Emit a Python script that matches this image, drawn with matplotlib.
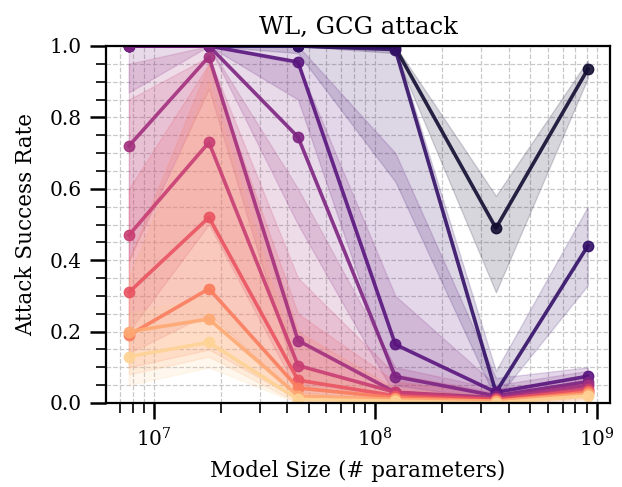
import numpy as np
import matplotlib
matplotlib.use("Agg")
import matplotlib.pyplot as plt
import seaborn as sns
from matplotlib.ticker import MultipleLocator, LogLocator

# model sizes (# parameters)
sizes = [7.7e6, 1.77e7, 4.47e7, 1.23e8, 3.5e8, 9.1e8]

# attack success rate per run, darkest -> lightest, with band limits
asr = [
    [1.0, 1.0, 1.0, 0.995, 0.49, 0.935],
    [1.0, 1.0, 1.0, 0.99, 0.03, 0.44],
    [1.0, 1.0, 0.955, 0.164, 0.03, 0.075],
    [1.0, 1.0, 0.745, 0.074, 0.02, 0.06],
    [0.72, 0.97, 0.175, 0.03, 0.015, 0.05],
    [0.47, 0.73, 0.105, 0.03, 0.01, 0.04],
    [0.31, 0.52, 0.064, 0.02, 0.01, 0.035],
    [0.19, 0.32, 0.042, 0.015, 0.005, 0.03],
    [0.2, 0.235, 0.02, 0.01, 0.005, 0.025],
    [0.13, 0.17, 0.01, 0.005, 0.0, 0.02],
]
asr_lo = [
    [1.0, 1.0, 1.0, 0.98, 0.31, 0.91],
    [1.0, 1.0, 0.98, 0.62, 0.01, 0.33],
    [1.0, 1.0, 0.85, 0.05, 0.01, 0.05],
    [0.87, 1.0, 0.5, 0.02, 0.005, 0.04],
    [0.4, 0.88, 0.05, 0.01, 0.005, 0.03],
    [0.2, 0.5, 0.03, 0.01, 0.0, 0.02],
    [0.14, 0.25, 0.02, 0.005, 0.0, 0.02],
    [0.1, 0.15, 0.01, 0.005, 0.0, 0.015],
    [0.08, 0.13, 0.0, 0.0, 0.0, 0.01],
    [0.05, 0.1, 0.0, 0.0, 0.0, 0.01],
]
asr_hi = [
    [1.0, 1.0, 1.0, 1.0, 0.58, 0.96],
    [1.0, 1.0, 1.0, 1.0, 0.09, 0.55],
    [1.0, 1.0, 1.0, 0.7, 0.07, 0.10],
    [1.0, 1.0, 0.95, 0.3, 0.05, 0.09],
    [0.95, 1.0, 0.6, 0.1, 0.04, 0.07],
    [0.85, 0.97, 0.35, 0.08, 0.03, 0.06],
    [0.6, 0.95, 0.25, 0.06, 0.025, 0.05],
    [0.4, 0.95, 0.2, 0.04, 0.02, 0.045],
    [0.35, 0.9, 0.1, 0.03, 0.015, 0.04],
    [0.25, 0.3, 0.05, 0.02, 0.01, 0.03],
]

plt.rcParams['font.family'] = ['DejaVu Serif']
plt.rcParams['mathtext.fontset'] = 'dejavuserif'

colors = sns.color_palette("magma", len(asr))

fig = plt.figure(figsize=(6.22, 4.87), dpi=100)
ax = fig.add_axes([106 / 622, 1 - 403 / 487, 504 / 622, 357 / 487])

for i in range(len(asr)):
    ax.fill_between(sizes, asr_lo[i], asr_hi[i], color=colors[i], alpha=0.17, linewidth=1)
for i in range(len(asr)):
    ax.plot(sizes, asr[i], color=colors[i], lw=2.6, marker='o', ms=7.5, alpha=0.9)

ax.set_xscale('log')
ax.set_xlim(6.07e6, 1.146e9)
ax.set_ylim(0, 1)
ax.yaxis.set_major_locator(MultipleLocator(0.2))
ax.yaxis.set_minor_locator(MultipleLocator(0.05))
ax.xaxis.set_minor_locator(LogLocator(base=10, subs=np.arange(2, 10), numticks=20))

ax.grid(True, which='both', ls='--', color='#c8c8c8', lw=0.9)
ax.set_axisbelow(True)

for s in ax.spines.values():
    s.set_linewidth(1.6)
ax.tick_params(which='major', length=11.5, width=1.8, labelsize=14.5, pad=6)
ax.tick_params(which='minor', length=7, width=1.2)

ax.set_title('WL, GCG attack', fontsize=17.5, pad=9)
ax.set_xlabel('Model Size (# parameters)', fontsize=15.5, labelpad=7)
ax.set_ylabel('Attack Success Rate', fontsize=15.5, labelpad=9)

fig.savefig('out.png', dpi=100)
